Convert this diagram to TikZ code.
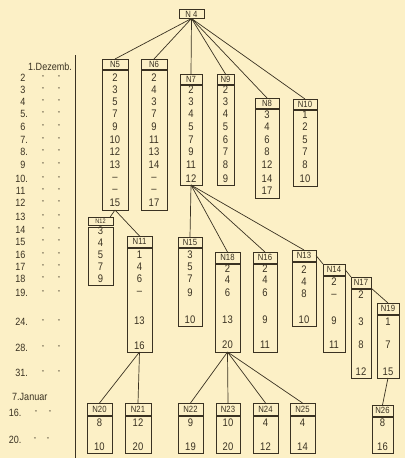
\documentclass[tikz,border=0pt]{standalone}
\usepackage{fontspec}
\setmainfont[FakeStretch=0.86]{Liberation Sans}
\definecolor{bg}{HTML}{FCF0C6}
\definecolor{ink}{HTML}{3A3222}
\tikzset{
  hdr/.style={draw=ink, line width=1pt, inner sep=0pt, outer sep=0pt, font=\fontsize{9}{9}\selectfont, text=ink},
  bodybox/.style={draw=ink, line width=1pt, inner sep=0pt, outer sep=0pt},
  ent/.style={inner sep=0pt, font=\fontsize{11}{11}\selectfont, text=ink},
  lab/.style={inner sep=0pt, font=\fontsize{10.5}{11}\selectfont, text=ink},
  dit/.style={inner sep=0pt, font=\fontsize{7}{7}\selectfont, text=ink},
  conn/.style={draw=ink, line width=0.7pt},
}
\newcommand\tbox[8]{%
  \node[hdr, minimum width={(#4)-(#3)}, minimum height={(#6)-(#5)}] (#1) at ({((#3)+(#4))/2},{((#5)+(#6))/2}) {#2};
  \node[bodybox, minimum width={(#4)-(#3)}, minimum height={(#7)-(#6)-1.8}, anchor=north] (#1b) at ({((#3)+(#4))/2},{(#6)+1.8}) {};
  \foreach \yy/\vv in {#8} {\node[ent] at ({((#3)+(#4))/2},\yy) {\vv};}
}
\begin{document}
\begin{tikzpicture}[x=1pt,y=-1pt]
\fill[bg] (0,0) rectangle (405,458);
\useasboundingbox (0,0) rectangle (405,458);
% left time axis
\draw[ink, line width=0.8pt] (75.5,55) -- (75.5,458);
\node[lab, anchor=west] (d1) at (28,67) {1.Dezemb.};
\foreach \yy/\nn/\pp in {78/2/,90/3/,102/4/,114/5/.,127/6/,140/7/.,152/8/.,165/9/,179/10/.,191/11/,203/12/,217/13/,230/14/,242/15/,255/16/,267/17/,279/18/,293/19/.,322/24/.,348/28/.,373/31/.}{
  \node[lab, anchor=east] at (25.5,\yy) {\nn\rlap{\pp}};
  \node[dit] at (43,\yy) {"};
  \node[dit] at (59,\yy) {"};
}
\node[lab, anchor=west] (j7) at (12,397) {7.Januar};
\node[lab, anchor=east] at (19,413) {16\rlap{.}};
\node[dit] at (36,413) {"};
\node[dit] at (50,413) {"};
\node[lab, anchor=east] at (19,440) {20\rlap{.}};
\node[dit] at (35,440) {"};
\node[dit] at (48,440) {"};
% root
\node[hdr, minimum width=25pt, minimum height=9pt] (n4) at (191.5,14) {N 4};
% first level
\tbox{n5}{N5}{102}{128}{59}{69}{210}{78/2,90/3,102/5,114/7,127/9,140/10,152/12,165/13,179/–,191/–,203/15}
\tbox{n6}{N6}{141}{167}{59}{69}{210}{78/2,90/4,102/3,114/7,127/9,140/11,152/13,165/14,179/–,191/–,203/17}
\tbox{n7}{N7}{180}{202}{74}{84}{185}{90/2,102/3,114/4,127/5,140/7,152/9,165/11,179/12}
\tbox{n9}{N9}{217}{234}{74}{84}{185}{90/2,102/3,114/4,127/5,140/6,152/7,165/8,179/9}
\tbox{n8}{N8}{255}{279}{98}{108}{198}{115/3,127/4,140/6,152/8,165/12,179/14,191/17}
\tbox{n10}{N10}{293}{317}{99}{109}{186}{115/1,127/2,140/5,152/7,165/8,179/10}
% second level
\node[hdr, font=\fontsize{6.5}{7}\selectfont, minimum width=25pt, minimum height=8.5pt] (n12) at (100.5,221.5) {N12};
\node[bodybox, minimum width=25pt, minimum height=57.5pt, anchor=north] (n12b) at (100.5,227.5) {};
\foreach \yy/\vv in {231/3,243/4,255/5,267/7,279/9} {\node[ent] at (100.5,\yy) {\vv};}
\tbox{n11}{N11}{127}{152}{236}{247}{352}{255/1,267/4,279/6,293/–,321/13,346/16}
\tbox{n15}{N15}{178}{202}{237}{247}{326}{255/3,267/5,279/7,293/9,320/10}
\tbox{n18}{N18}{215}{240}{252}{263}{352}{269/2,280/4,293/6,320/13,345/20}
\tbox{n16}{N16}{253}{277}{252}{263}{352}{269/2,280/4,293/6,320/9,345/11}
\tbox{n13}{N13}{292}{316}{250}{261}{326}{270/2,282/4,294/8,320/10}
\tbox{n14}{N14}{323}{345}{264}{275}{352}{282/2,296/–,321/9,345/11}
\tbox{n17}{N17}{351}{371}{277}{288}{378}{295/2,322/3,345/8,372/12}
\tbox{n19}{N19}{377}{399}{303}{314}{378}{322/1,345/7,372/15}
% third level
\tbox{n20}{N20}{87}{112}{403}{415}{453}{423/8,447/10}
\tbox{n21}{N21}{125}{151}{403}{415}{453}{423/12,447/20}
\tbox{n22}{N22}{178}{203}{403}{415}{453}{423/9,447/19}
\tbox{n23}{N23}{216}{240}{403}{415}{453}{423/10,447/20}
\tbox{n24}{N24}{253}{278}{403}{415}{453}{423/4,447/12}
\tbox{n25}{N25}{290}{315}{403}{415}{453}{423/4,447/14}
\tbox{n26}{N26}{372}{393}{405}{416}{453}{423/8,447/16}
% connectors
\foreach \c in {n5,n6,n7,n9,n8,n10} \draw[conn] (n4.south) -- (\c.north);
\draw[conn] (n5b.south) -- ([xshift=-3pt]n12.north east);
\draw[conn] (n5b.south) -- (n11.north);
\foreach \c in {n15,n18,n16,n13} \draw[conn] (n7b.south) -- (\c.north);
\draw[conn] (n13.east) -- (n14.north west);
\draw[conn] (n14.east) -- (n17.north west);
\draw[conn] (n17.south east) -- (n19.north);
\draw[conn] (n11b.south) -- (n20.north);
\draw[conn] (n11b.south) -- (n21.north);
\foreach \c in {n22,n23,n24,n25} \draw[conn] (n18b.south) -- (\c.north);
\draw[conn] (n19b.south) -- (n26.north);
\end{tikzpicture}
\end{document}
